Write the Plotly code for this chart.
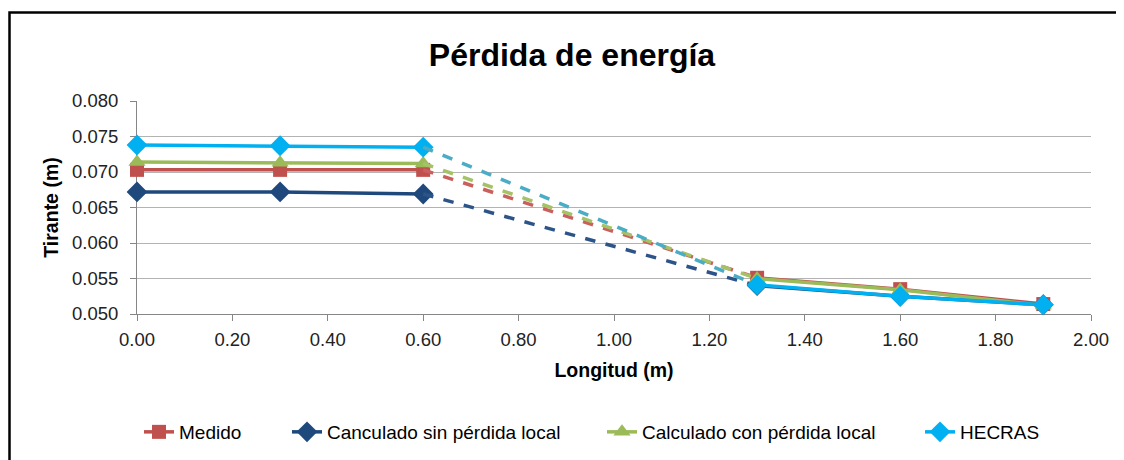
import plotly.graph_objects as go

longitud = [0.0, 0.3, 0.6, 1.3, 1.6, 1.9]
medido = [0.0703, 0.0703, 0.0703, 0.0551, 0.0535, 0.0514]
sin_perdida = [0.0672, 0.0672, 0.0669, 0.0540, 0.0525, 0.0513]
con_perdida = [0.0714, 0.0713, 0.0712, 0.0550, 0.0534, 0.0512]
hecras = [0.0738, 0.0737, 0.0735, 0.0541, 0.0525, 0.0513]

x_ticks = [0.0, 0.2, 0.4, 0.6, 0.8, 1.0, 1.2, 1.4, 1.6, 1.8, 2.0]
y_ticks = [0.050, 0.055, 0.060, 0.065, 0.070, 0.075, 0.080]

series = [
    ("Medido", medido, "#C0504D", "#C9605D", "square", 14, "legend"),
    ("Canculado sin pérdida local", sin_perdida, "#1F497D", "#2C5489", "diamond", 16, "legend2"),
    ("Calculado con pérdida local", con_perdida, "#9BBB59", "#A5C266", "triangle-up", 15, "legend3"),
    ("HECRAS", hecras, "#00B0F0", "#4BACC6", "diamond", 16, "legend4"),
]
# page x of legend text start
legend_text_px = [179, 327, 642, 960]

# page offset of the figure (browser body margin)
OFF = 8
PL, PR, PT, PB = 137, 1091, 101, 314  # plot area in page pixels
W, H = 1124, 460

def px_to_paper_x(px):
    return (px - PL) / (PR - PL)

def py_to_paper_y(py):
    return (PB - py) / (PB - PT)

FONT = "Liberation Sans"
fig = go.Figure()
for name, ys, col, dcol, sym, ms, lg in series:
    fig.add_trace(go.Scatter(
        x=longitud[:3], y=ys[:3], mode="lines+markers", name=name, legendgroup=name,
        line=dict(color=col, width=3.5), marker=dict(symbol=sym, size=ms, color=col),
        cliponaxis=False, showlegend=True, legend=lg))
    fig.add_trace(go.Scatter(
        x=longitud[2:4], y=ys[2:4], mode="lines", name=name, legendgroup=name,
        line=dict(color=dcol, width=3.5, dash="dash"), cliponaxis=False, showlegend=False, legend=lg))
    fig.add_trace(go.Scatter(
        x=longitud[3:], y=ys[3:], mode="lines+markers", name=name, legendgroup=name,
        line=dict(color=col, width=3.5), marker=dict(symbol=sym, size=ms, color=col),
        cliponaxis=False, showlegend=False, legend=lg))

legend_common = dict(orientation="h", xanchor="left", yanchor="middle",
                     y=py_to_paper_y(432), font=dict(family=FONT, size=19, color="#000000"),
                     itemwidth=30, bgcolor="rgba(0,0,0,0)", borderwidth=0)
legends = {}
for i, (s, tpx) in enumerate(zip(series, legend_text_px)):
    key = s[6]
    legends[key] = dict(legend_common, x=px_to_paper_x(tpx - 40))

fig.update_layout(
    width=W, height=H,
    margin=dict(l=PL - OFF, r=W - PR + OFF, t=PT - OFF, b=H - PB + OFF),
    paper_bgcolor="white", plot_bgcolor="white",
    font=dict(family=FONT, size=19, color="#000000"),
    title=dict(text="<b>Pérdida de energía</b>", x=px_to_paper_x(572), xref="paper", xanchor="center",
               y=1 - (55 - OFF) / H, yref="container", yanchor="middle",
               font=dict(family=FONT, size=32, color="#000000")),
    xaxis=dict(range=[0, 2], tickvals=x_ticks, tickformat=".2f", showgrid=False,
               showline=True, linecolor="#868686", linewidth=1,
               ticks="outside", ticklen=6, tickcolor="#868686",
               tickfont=dict(size=18.5, color="#222222"), ticklabelstandoff=3,
               title=dict(text="<b>Longitud (m)</b>", font=dict(size=19.5), standoff=14),
               zeroline=False, layer="below traces"),
    yaxis=dict(range=[0.05, 0.08], tickvals=y_ticks, tickformat=".3f", showgrid=True,
               gridcolor="#B3B3B3", gridwidth=1,
               showline=True, linecolor="#868686", linewidth=1,
               ticks="outside", ticklen=6, tickcolor="#868686",
               tickfont=dict(size=18.5, color="#222222"), ticklabelstandoff=8,
               title=dict(text="<b>Tirante (m)</b>", font=dict(size=19.5), standoff=8),
               zeroline=False, layer="below traces"),
    showlegend=True,
    shapes=[dict(type="rect", xref="paper", yref="paper",
                 x0=px_to_paper_x(9.5), x1=px_to_paper_x(1140),
                 y0=py_to_paper_y(480), y1=py_to_paper_y(12.5),
                 line=dict(color="#000000", width=2.5), fillcolor="rgba(0,0,0,0)", layer="above")],
    **legends,
)

fig.write_html("out.html")
